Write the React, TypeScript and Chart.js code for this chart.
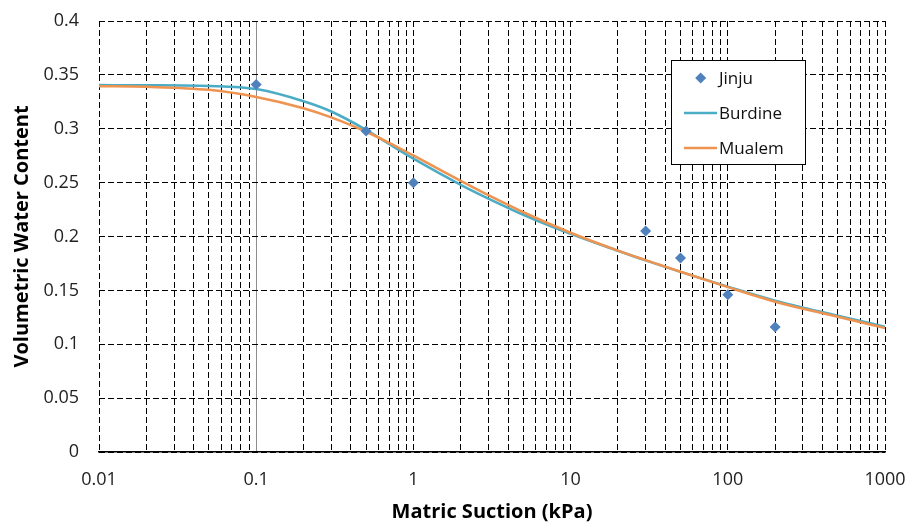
import React, { useEffect, useRef } from "react";
import { Chart, registerables } from "chart.js";

Chart.register(...registerables);

// ---- Data ----
const jinjuSuction = [0.1, 0.5, 1, 30, 50, 100, 200];
const jinjuTheta = [0.341, 0.298, 0.25, 0.205, 0.18, 0.146, 0.116];

const curveSuction = [0.01, 0.02, 0.05, 0.1, 0.2, 0.3, 0.5, 0.7, 1, 2, 3, 5, 10, 20, 30, 50, 100, 200, 500, 1000];
const burdineTheta = [0.3405, 0.3404, 0.3397, 0.3368, 0.3255, 0.316, 0.299, 0.2858, 0.2722, 0.248, 0.2352, 0.2202, 0.2025, 0.1868, 0.1778, 0.1672, 0.1535, 0.1405, 0.1265, 0.1163];
const mualemTheta = [0.3395, 0.3389, 0.3361, 0.3295, 0.319, 0.3105, 0.2972, 0.287, 0.2752, 0.2517, 0.2383, 0.2225, 0.2035, 0.1869, 0.1781, 0.1673, 0.153, 0.1395, 0.1255, 0.115];

const xMajorTicks = [0.01, 0.1, 1, 10, 100, 1000];
const yTicks = [0, 0.05, 0.1, 0.15, 0.2, 0.25, 0.3, 0.35, 0.4];

const seriesNames = ["Jinju", "Burdine", "Mualem"];
const seriesColors = ["#4F81BD", "#4BACC6", "#EE9350"];

const FONT = "'Open Sans', 'Liberation Sans', sans-serif";

function buildXGridValues(): number[] {
  const vals: number[] = [];
  for (let i = 0; i < xMajorTicks.length - 1; i++) {
    const base = xMajorTicks[i];
    for (let m = 1; m <= 9; m++) vals.push(Number((base * m).toPrecision(3)));
  }
  vals.push(xMajorTicks[xMajorTicks.length - 1]);
  return vals;
}

const legendPlugin = {
  id: "customLegend",
  afterDraw(chart: any) {
    const ctx = chart.ctx as CanvasRenderingContext2D;
    ctx.save();
    const bx = 671.5, by = 60.5, bw = 134, bh = 104;
    ctx.fillStyle = "#ffffff";
    ctx.fillRect(bx, by, bw, bh);
    ctx.strokeStyle = "#000000";
    ctx.lineWidth = 1;
    ctx.setLineDash([]);
    ctx.strokeRect(bx, by, bw, bh);
    const rows = [78, 113, 148];
    ctx.font = `17px ${FONT}`;
    ctx.textBaseline = "middle";
    ctx.textAlign = "left";
    rows.forEach((ry, i) => {
      if (i === 0) {
        const cx = 700.7, r = 5.5;
        ctx.fillStyle = seriesColors[0];
        ctx.beginPath();
        ctx.moveTo(cx - r, ry);
        ctx.lineTo(cx, ry - r);
        ctx.lineTo(cx + r, ry);
        ctx.lineTo(cx, ry + r);
        ctx.closePath();
        ctx.fill();
      } else {
        ctx.strokeStyle = seriesColors[i];
        ctx.lineWidth = 2.5;
        ctx.beginPath();
        ctx.moveTo(684, ry);
        ctx.lineTo(717, ry);
        ctx.stroke();
      }
      ctx.fillStyle = "#111111";
      ctx.fillText(seriesNames[i], 719, ry + 1);
    });
    ctx.restore();
  },
};

export default function App() {
  const canvasRef = useRef<HTMLCanvasElement | null>(null);

  useEffect(() => {
    document.body.style.margin = "0";
    const canvas = canvasRef.current;
    if (!canvas) return;
    const xGrid = buildXGridValues();

    const chart = new Chart(canvas, {
      type: "scatter",
      data: {
        datasets: [
          {
            label: seriesNames[0],
            data: jinjuSuction.map((x, i) => ({ x, y: jinjuTheta[i] })),
            backgroundColor: seriesColors[0],
            borderColor: seriesColors[0],
            pointStyle: "rectRot",
            pointRadius: 5.5,
            pointBorderWidth: 0,
            showLine: false,
            order: 0,
          },
          {
            label: seriesNames[1],
            data: curveSuction.map((x, i) => ({ x, y: burdineTheta[i] })),
            borderColor: seriesColors[1],
            backgroundColor: seriesColors[1],
            borderWidth: 2.5,
            pointRadius: 0,
            showLine: true,
            cubicInterpolationMode: "monotone",
            order: 2,
          },
          {
            label: seriesNames[2],
            data: curveSuction.map((x, i) => ({ x, y: mualemTheta[i] })),
            borderColor: seriesColors[2],
            backgroundColor: seriesColors[2],
            borderWidth: 2.5,
            pointRadius: 0,
            showLine: true,
            cubicInterpolationMode: "monotone",
            order: 1,
          },
        ],
      },
      options: {
        animation: false,
        responsive: false,
        devicePixelRatio: 1,
        layout: { padding: { left: 0, right: 30, top: 21, bottom: 0 } },
        plugins: {
          legend: { display: false },
          tooltip: { enabled: false },
        },
        scales: {
          x: {
            type: "logarithmic",
            min: 0.01,
            max: 1000,
            afterBuildTicks: (scale: any) => {
              scale.ticks = xGrid.map((v) => ({ value: v }));
            },
            afterFit: (scale: any) => {
              scale.height = 77;
              scale.paddingLeft = 0;
              scale.paddingRight = 0;
              scale.paddingTop = 0;
              scale.paddingBottom = 0;
            },
            ticks: {
              autoSkip: false,
              maxRotation: 0,
              padding: 17,
              color: "#222222",
              font: { family: FONT, size: 18 },
              callback: (value: any) => {
                const v = Number(value);
                return xMajorTicks.some((m) => Math.abs(m - v) < m * 1e-6) ? String(v) : "";
              },
            },
            grid: {
              drawTicks: false,
              lineWidth: 1,
              color: (ctx: any) =>
                ctx.tick && Math.abs(ctx.tick.value - 0.1) < 1e-9 ? "#8c8c8c" : "#000000",
            },
            border: {
              display: true,
              color: "#000000",
              width: 1.5,
              dash: (ctx: any) =>
                ctx.tick && Math.abs(ctx.tick.value - 0.1) < 1e-9 ? [] : [6, 3],
            },
            title: {
              display: true,
              text: "Matric Suction (kPa)",
              color: "#000000",
              font: { family: FONT, size: 20, weight: "bold" },
              padding: { top: 0, bottom: 5 },
            },
          },
          y: {
            type: "linear",
            min: 0,
            max: 0.4,
            afterBuildTicks: (scale: any) => {
              scale.ticks = yTicks.map((v) => ({ value: v }));
            },
            afterFit: (scale: any) => {
              scale.width = 99;
              scale.paddingLeft = 0;
              scale.paddingRight = 0;
              scale.paddingTop = 0;
              scale.paddingBottom = 0;
            },
            ticks: {
              padding: 20,
              color: "#222222",
              font: { family: FONT, size: 18 },
              callback: (value: any) => String(Number(Number(value).toFixed(2))),
            },
            grid: {
              drawTicks: false,
              lineWidth: 1,
              color: "#000000",
            },
            border: {
              display: false,
              dash: [6, 3],
            },
            title: {
              display: true,
              text: "Volumetric Water Content",
              color: "#000000",
              font: { family: FONT, size: 20, weight: "bold" },
              padding: { top: 10, bottom: 0 },
            },
          },
        },
      },
      plugins: [legendPlugin],
    } as any);

    return () => {
      chart.destroy();
    };
  }, []);

  return (
    <canvas
      ref={canvasRef}
      width={915}
      height={529}
      style={{ display: "block", width: 915, height: 529 }}
    />
  );
}
